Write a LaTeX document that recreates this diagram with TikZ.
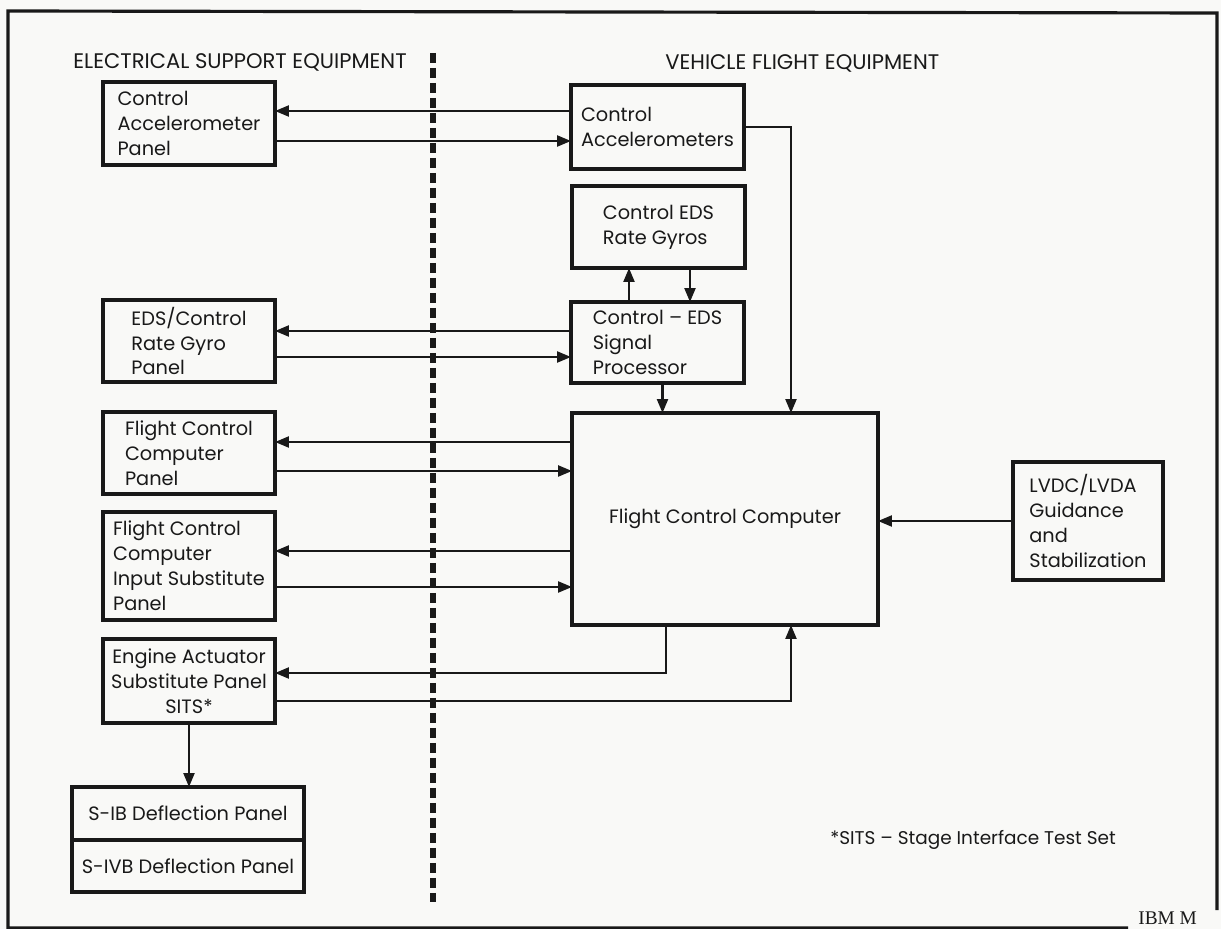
\documentclass[tikz,border=0pt]{standalone}
\usepackage{fontspec}
\setmainfont{Poppins}
\newfontfamily\stampfont{Liberation Serif}
\usetikzlibrary{arrows.meta, positioning}
\definecolor{inkblack}{RGB}{25,25,25}
\definecolor{scanpaper}{RGB}{249,249,247}
\tikzset{
    panelbox/.style={rectangle, draw=inkblack, line width=2pt, outer sep=0pt, inner sep=0pt, minimum width=3.44cm, align=left, text=inkblack, font=\fontsize{11}{14.2}\selectfont},
    groupttl/.style={anchor=west, inner sep=0pt, text=inkblack, font=\fontsize{12}{14.2}\selectfont},
    arrow/.style={-{Triangle[length=2.8mm, width=2.2mm]}, line width=1.3pt, inkblack},
    divider/.style={line width=3.4pt, inkblack, dash pattern=on 0.21cm off 0.09cm},
    frameline/.style={line width=1.8pt, inkblack},
}

\begin{document}
\begin{tikzpicture}[x=0.02cm, y=-0.02cm]

\useasboundingbox[fill=scanpaper] (0,0) rectangle (1221,929);
\draw[frameline] (1217,910) -- (1217,13) -- (8,11) -- (8,928) -- (1128,928);

% group titles and the split between them
\node[groupttl] (ese-title) at (73,62) {ELECTRICAL SUPPORT EQUIPMENT};
\node[groupttl] (vfe-title) at (665,63) {VEHICLE FLIGHT EQUIPMENT};
\draw[divider] (433,53) -- (433,902);

% support equipment panels
\node[panelbox, minimum height=1.66cm] (accpanel) at (189,123.5) {Control\\Accelerometer\\Panel};
\node[panelbox, minimum height=1.64cm] (gyropanel) at (189,341) {EDS/Control\\Rate Gyro\\Panel};
\node[panelbox, minimum height=1.64cm] (fccpanel) at (189,453) {Flight Control\\Computer\\Panel};
\node[panelbox, minimum height=2.16cm] (fccisp) at (189,566) {Flight Control\\Computer\\Input Substitute\\Panel};
\node[panelbox, minimum height=1.68cm, align=center] (easp) at (189,681) {Engine Actuator\\Substitute Panel\\SITS*};
\node[panelbox, minimum width=4.64cm, minimum height=1.06cm] (sib) at (188,813.5) {S-IB Deflection Panel};
\node[panelbox, minimum width=4.64cm, minimum height=1.04cm, below=0pt of sib] (sivb) {S-IVB Deflection Panel};

% flight equipment
\node[panelbox, minimum width=3.46cm, minimum height=1.68cm] (accel) at (657.5,127) {Control\\Accelerometers};
\node[panelbox, minimum width=3.46cm, minimum height=1.64cm] (rategyro) at (658.5,227) {Control EDS\\Rate Gyros};
\node[panelbox, minimum width=3.46cm, minimum height=1.62cm] (sigproc) at (657.5,342.5) {Control -- EDS\\Signal\\Processor};
\node[panelbox, minimum width=6.12cm, minimum height=4.24cm, align=center] (fcc) at (725,519) {Flight Control Computer};
\node[panelbox, minimum width=3cm, minimum height=2.36cm] (lvdc) at (1088,521) {LVDC/LVDA\\Guidance\\and\\Stabilization};

% connections
\draw[arrow] ([yshift=0.32cm]accel.west) -- ([yshift=0.32cm]accel.west -| accpanel.east);
\draw[arrow] ([yshift=-0.28cm]accel.west -| accpanel.east) -- ([yshift=-0.28cm]accel.west);
\draw[arrow] (accel.east) -| ([xshift=1.32cm]fcc.north);

\draw[arrow] ([xshift=-0.57cm]sigproc.north) -- ([xshift=-0.57cm]sigproc.north |- rategyro.south);
\draw[arrow] ([xshift=0.65cm]sigproc.north |- rategyro.south) -- ([xshift=0.65cm]sigproc.north);
\draw[arrow] ([yshift=0.23cm]sigproc.west) -- ([yshift=0.23cm]sigproc.west -| gyropanel.east);
\draw[arrow] ([yshift=-0.29cm]sigproc.west -| gyropanel.east) -- ([yshift=-0.29cm]sigproc.west);
\draw[arrow] ([xshift=0.1cm]sigproc.south) -- ([xshift=0.1cm]sigproc.south |- fcc.north);

\draw[arrow] ([yshift=0.22cm]fccpanel.east -| fcc.west) -- ([yshift=0.22cm]fccpanel.east);
\draw[arrow] ([yshift=-0.36cm]fccpanel.east) -- ([yshift=-0.36cm]fccpanel.east -| fcc.west);
\draw[arrow] ([yshift=0.30cm]fccisp.east -| fcc.west) -- ([yshift=0.30cm]fccisp.east);
\draw[arrow] ([yshift=-0.42cm]fccisp.east) -- ([yshift=-0.42cm]fccisp.east -| fcc.west);

\draw[arrow] ([xshift=-1.18cm]fcc.south) |- ([yshift=0.16cm]easp.east);
\draw[arrow] ([yshift=-0.40cm]easp.east) -| ([xshift=1.32cm]fcc.south);
\draw[arrow] (easp.south) -- (easp.south |- sib.north);

\draw[arrow] (lvdc.west) -- (lvdc.west -| fcc.east);

% notes
\node[anchor=west, inner sep=0pt, text=inkblack, font=\fontsize{10.5}{14.2}\selectfont] (sits-note) at (830,840) {*SITS -- Stage Interface Test Set};
\node[anchor=west, inner sep=0pt, text=inkblack, font=\stampfont\fontsize{11}{12}\selectfont] (stamp) at (1138,918) {IBM M};

\end{tikzpicture}
\end{document}
